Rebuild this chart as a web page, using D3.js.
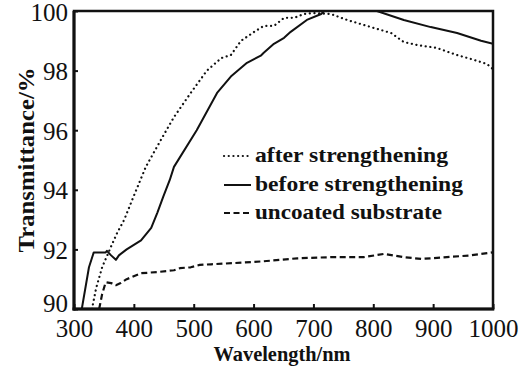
<!DOCTYPE html>
<html>
<head>
<meta charset="utf-8">
<script src="https://cdn.jsdelivr.net/npm/d3@7"></script>
<style>
  html, body { margin: 0; padding: 0; background: #fff; }
  svg { display: block; }
</style>
</head>
<body>
<svg id="chart" width="529" height="371"></svg>
<script>
// ---- data ----
const xTicks = [300, 400, 500, 600, 700, 800, 900, 1000];
const yTicks = [90, 92, 94, 96, 98, 100];

const seriesNames = ["after strengthening", "before strengthening", "uncoated substrate"];

const afterWl = [330, 337, 347, 362, 372, 384, 400, 420, 445, 467, 495, 522, 546, 562, 579, 601, 617, 634, 651, 668, 684, 701, 729, 756, 801, 830, 851, 873, 906, 940, 968, 990, 1000];
const afterT  = [90.0, 90.7, 91.4, 92.1, 92.55, 93.0, 93.8, 94.77, 95.67, 96.44, 97.25, 98.0, 98.42, 98.52, 99.0, 99.3, 99.5, 99.5, 99.77, 99.77, 99.9, 99.93, 99.9, 99.7, 99.43, 99.26, 98.96, 98.86, 98.76, 98.52, 98.36, 98.22, 98.05];

const beforeWl = [313, 325, 333, 338, 353, 355, 362, 370, 375, 388, 412, 429, 439, 449, 460, 467, 505, 539, 562, 589, 612, 617, 634, 651, 662, 689, 713, 718, 760, 806, 851, 896, 940, 980, 1000];
const beforeT  = [90.0, 91.4, 91.9, 91.9, 91.9, 91.95, 91.8, 91.65, 91.8, 92.0, 92.3, 92.72, 93.22, 93.76, 94.33, 94.77, 96.0, 97.25, 97.8, 98.26, 98.5, 98.6, 98.9, 99.1, 99.3, 99.7, 99.9, 100.0, 100.0, 100.0, 99.7, 99.46, 99.26, 99.0, 98.9];

const uncoatedWl = [342, 347, 353, 362, 370, 378, 388, 412, 439, 467, 477, 495, 510, 529, 566, 616, 673, 729, 784, 818, 851, 880, 923, 963, 1000];
const uncoatedT  = [90.0, 90.5, 90.9, 90.87, 90.8, 90.87, 91.0, 91.2, 91.24, 91.3, 91.37, 91.4, 91.48, 91.5, 91.54, 91.6, 91.7, 91.74, 91.74, 91.85, 91.74, 91.68, 91.74, 91.8, 91.9];

// ---- layout ----
const svg = d3.select("#chart");
const L = 74, R = 493, T = 11, B = 309;
const x = d3.scaleLinear().domain([300, 1000]).range([L, R]);
const y = d3.scaleLinear().domain([90, 100]).range([B, T]);

const serif = '"Liberation Serif"';

svg.append("defs").append("clipPath").attr("id", "clip")
  .append("rect").attr("x", L).attr("y", T).attr("width", R - L).attr("height", B - T);

// ---- curves ----
const line = d3.line().x(d => x(d[0])).y(d => y(d[1]));
const zip = (a, b) => a.map((v, i) => [v, b[i]]);

const styles = [
  { dash: "0.1,4.6", cap: "round", w: 2.2 },
  { dash: null, cap: "butt", w: 2.0 },
  { dash: "6,3.5", cap: "butt", w: 2.2 }
];
const data = [zip(afterWl, afterT), zip(beforeWl, beforeT), zip(uncoatedWl, uncoatedT)];

const g = svg.append("g").attr("clip-path", "url(#clip)");
data.forEach((d, i) => {
  g.append("path")
    .attr("d", line(d))
    .attr("fill", "none")
    .attr("stroke", "#111")
    .attr("stroke-width", styles[i].w)
    .attr("stroke-linecap", styles[i].cap)
    .attr("stroke-linejoin", "round")
    .attr("stroke-dasharray", styles[i].dash);
});

// ---- axes ----
const xAxis = d3.axisBottom(x).tickValues(xTicks).tickSize(-5).tickPadding(10).tickFormat(d3.format("d"));
const gx = svg.append("g").attr("transform", `translate(0,${B})`).call(xAxis);
gx.attr("font-family", null).attr("font-size", null);
gx.select(".domain").remove();
gx.selectAll("line").attr("stroke", "#111").attr("stroke-width", 2);
gx.selectAll("text").style("font-family", serif).style("font-size", "25px").attr("fill", "#111")
  .attr("dy", "0.71em");

const yAxis = d3.axisLeft(y).tickValues(yTicks).tickSize(-4).tickPadding(6).tickFormat(d3.format("d"));
const gy = svg.append("g").attr("transform", `translate(${L},0)`).call(yAxis);
gy.attr("font-family", null).attr("font-size", null);
gy.select(".domain").remove();
gy.selectAll("line").attr("stroke", "#111").attr("stroke-width", 2);
gy.selectAll("text").style("font-family", serif).style("font-size", "25px").attr("fill", "#111")
  .attr("dy", d => d === 90 ? "0.1em" : "0.36em");

// frame
svg.append("rect").attr("x", L).attr("y", T).attr("width", R - L).attr("height", B - T)
  .attr("fill", "none").attr("stroke", "#111").attr("stroke-width", 2.5);
svg.append("line").attr("x1", L).attr("x2", L).attr("y1", T).attr("y2", B + 1.5)
  .attr("stroke", "#111").attr("stroke-width", 3);
svg.append("line").attr("x1", L - 1.5).attr("x2", R + 1.2).attr("y1", B).attr("y2", B)
  .attr("stroke", "#111").attr("stroke-width", 3);

// axis titles
svg.append("text")
  .attr("x", 282).attr("y", 361)
  .attr("text-anchor", "middle")
  .style("font-family", serif).style("font-weight", "bold").style("font-size", "22px")
  .attr("textLength", 137).attr("lengthAdjust", "spacingAndGlyphs")
  .attr("fill", "#111")
  .text("Wavelength/nm");

svg.append("text")
  .attr("transform", "translate(34,160) rotate(-90)")
  .attr("text-anchor", "middle")
  .style("font-family", serif).style("font-weight", "bold").style("font-size", "24px")
  .attr("textLength", 185).attr("lengthAdjust", "spacingAndGlyphs")
  .attr("fill", "#111")
  .text("Transmittance/%");

// ---- legend ----
const legendY = [156, 185, 213];
const legendBase = [162, 191, 219];
const legendLen = [193, 208, 187];
seriesNames.forEach((name, i) => {
  svg.append("line")
    .attr("x1", 224).attr("x2", 251)
    .attr("y1", legendY[i]).attr("y2", legendY[i])
    .attr("stroke", "#111")
    .attr("stroke-width", styles[i].w)
    .attr("stroke-linecap", styles[i].cap)
    .attr("stroke-dasharray", styles[i].dash);
  svg.append("text")
    .attr("x", 255).attr("y", legendBase[i])
    .style("font-family", serif).style("font-weight", "bold").style("font-size", "22px")
    .attr("textLength", legendLen[i]).attr("lengthAdjust", "spacingAndGlyphs")
    .attr("fill", "#111")
    .text(name);
});
</script>
</body>
</html>
